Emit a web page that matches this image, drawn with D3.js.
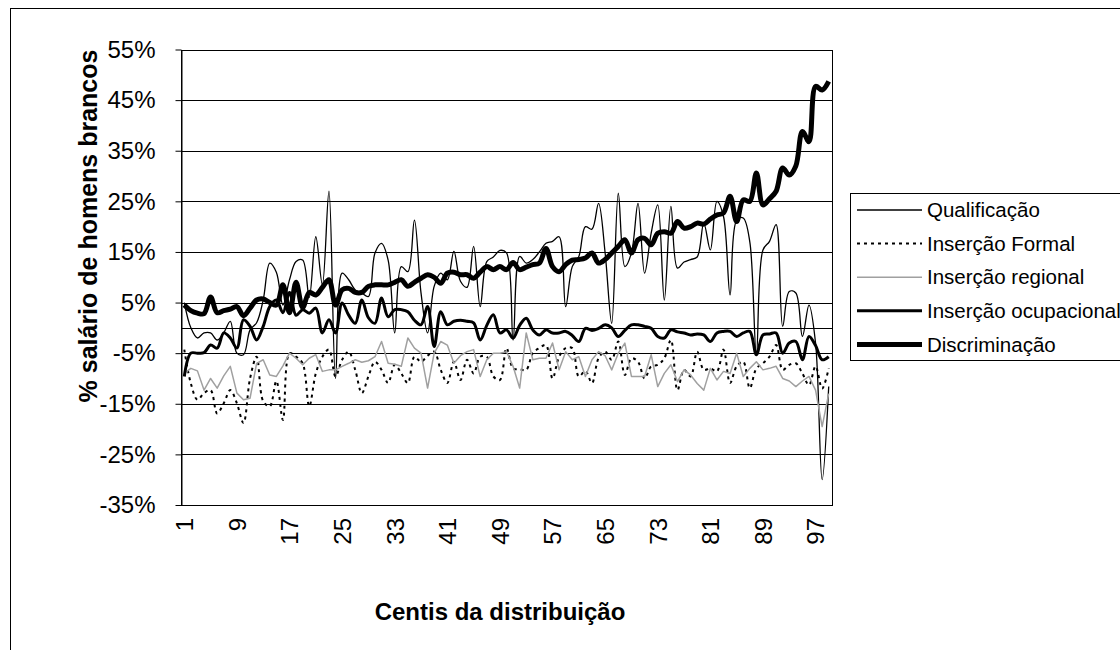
<!DOCTYPE html>
<html>
<head>
<meta charset="utf-8">
<script src="https://cdn.jsdelivr.net/npm/d3@7"></script>
<style>
  body { margin: 0; background: #fff; }
  svg { display: block; font-family: Arial, "Liberation Sans", sans-serif; }
</style>
</head>
<body>
<svg id="chart" width="1120" height="650"></svg>
<script>
var centis = [1,2,3,4,5,6,7,8,9,10,11,12,13,14,15,16,17,18,19,20,21,22,23,24,25,26,27,28,29,30,
  31,32,33,34,35,36,37,38,39,40,41,42,43,44,45,46,47,48,49,50,51,52,53,54,55,56,57,58,59,60,
  61,62,63,64,65,66,67,68,69,70,71,72,73,74,75,76,77,78,79,80,81,82,83,84,85,86,87,88,89,90,
  91,92,93,94,95,96,97,98,99];
var xTickLabels = [1, 9, 17, 25, 33, 41, 49, 57, 65, 73, 81, 89, 97];
var yTicks = [-35, -25, -15, -5, 5, 15, 25, 35, 45, 55];

// values in % of white men's wage
var qualificacao = [5.0, 0.0, -2.0, -1.0, -1.0, -2.4, -1.0, 1.3, -5.0, -5.3,
  -0.4, 1.0, 5.5, 12.8, 11.0, 4.5, 9.5, 13.1, 13.4, 6.0,
  18.0, 8.5, 27.0, -10.0, 10.8, 9.5, 7.5, 6.9, 6.2, 14.8,
  16.7, 13.4, -1.0, 12.1, 11.1, 21.3, 6.9, -1.0, 8.2, 10.8,
  9.5, 15.1, 9.2, 8.0, 16.1, 4.2, 13.1, 14.0, 15.3, 14.8,
  -2.4, 14.1, 12.8, 13.5, 15.0, 16.7, 17.1, 18.0, 4.2, 12.1,
  14.1, 20.0, 19.5, 24.6, 14.8, 0.9, 26.6, 12.1, 14.8, 24.6,
  10.8, 18.7, 24.3, 5.5, 24.0, 11.8, 13.0, 13.5, 14.0, 20.7,
  15.4, 25.0, 22.0, 6.5, 21.3, 21.7, 17.0, -5.3, 15.4, 17.1,
  20.4, 0.3, 7.2, 6.9, -1.7, 4.5, -3.0, -30.0, -11.6];
var insercaoFormal = [-4.3, -11.0, -14.2, -12.9, -12.3, -16.9, -14.9, -12.3, -14.9, -18.8,
  -10.0, -5.7, -14.5, -15.5, -10.5, -18.2, -5.0, -5.7, -7.0, -15.5,
  -9.0, -5.7, -4.3, -9.6, -6.3, -4.7, -8.3, -12.9, -9.6, -6.7,
  -8.3, -10.9, -7.3, -9.0, -10.9, -5.7, -6.7, -5.5, -4.7, -8.3,
  -10.9, -6.7, -10.3, -6.3, -9.0, -5.7, -5.7, -9.6, -10.3, -4.0,
  -8.0, -8.2, -8.3, -5.0, -4.0, -3.4, -10.0, -5.7, -4.0, -4.0,
  -9.6, -8.5, -10.9, -6.0, -4.7, -6.3, -2.7, -9.3, -6.0, -6.7,
  -10.0, -7.6, -7.3, -6.0, -2.4, -12.3, -8.3, -9.6, -4.7, -8.3,
  -8.0, -8.6, -4.3, -10.9, -7.6, -6.7, -11.9, -8.0, -7.0, -5.7,
  -3.4, -8.3, -7.3, -7.0, -9.0, -11.3, -7.6, -12.0, -8.0];
var insercaoRegional = [-9.0, -8.0, -8.5, -12.3, -10.0, -11.9, -9.5, -7.6, -12.9, -14.2,
  -13.9, -7.0, -6.3, -9.3, -9.6, -7.5, -5.0, -6.0, -7.3, -6.0,
  -5.3, -8.6, -8.3, -8.3, -7.6, -7.0, -6.3, -6.8, -6.5, -5.7,
  -2.7, -7.0, -7.2, -7.6, -2.0, -4.0, -5.0, -11.9, -5.0, -2.7,
  -3.4, -7.0, -5.5, -4.7, -4.3, -9.6, -6.3, -5.0, -5.0, -4.7,
  -7.6, -11.9, -1.0, -6.3, -6.0, -6.0, -3.0, -8.3, -4.7, -6.3,
  -5.7, -9.6, -6.3, -4.7, -5.5, -8.3, -5.0, -3.0, -9.6, -9.6,
  -9.6, -5.3, -11.6, -9.0, -7.3, -10.6, -8.3, -9.3, -11.0, -12.3,
  -8.0, -10.3, -8.6, -9.0, -5.0, -9.6, -8.0, -6.7, -8.3, -8.0,
  -7.6, -10.0, -10.5, -11.6, -10.5, -9.6, -12.3, -19.5, -13.0];
var insercaoOcupacional = [-9.6, -5.0, -5.0, -4.9, -3.4, -4.0, -1.0, -2.0, -4.0, 1.6,
  0.3, -2.4, 0.3, 4.2, 5.5, 3.0, 7.0, 2.5, 3.6, 2.9,
  3.9, -1.0, 1.6, -1.0, 4.9, 2.5, 0.9, 5.5, 2.0, 0.9,
  5.9, 2.2, 3.6, 3.6, 3.2, 1.5, 0.6, 4.2, -3.7, 3.2,
  0.6, 1.3, 1.5, 1.3, 1.0, -2.4, 0.5, 2.6, -1.0, -0.4,
  -2.0, 0.5, 1.9, -0.4, -1.4, -0.4, -1.0, -1.0, -0.7, -1.5,
  -2.7, -0.1, -0.5, -0.1, 0.6, 0.0, -1.7, -0.5, 0.6, 0.6,
  0.3, -0.1, -1.7, -2.0, -0.4, -0.8, -1.0, -1.4, -1.2, -1.4,
  -2.7, -1.0, -0.7, -0.7, -1.7, -1.0, -0.7, -5.3, -1.4, -1.2,
  -1.0, -5.0, -3.0, -2.7, -6.3, -1.7, -3.5, -6.3, -5.7];
var discriminacao = [4.5, 3.4, 2.9, 2.8, 6.1, 3.0, 3.4, 3.7, 4.2, 2.4,
  3.9, 5.5, 5.7, 5.0, 4.5, 8.5, 3.0, 9.0, 4.0, 7.0,
  6.5, 8.0, 9.5, 4.5, 7.5, 7.8, 7.0, 7.0, 8.2, 8.5,
  8.5, 8.5, 9.0, 9.5, 8.2, 9.0, 9.8, 10.5, 10.0, 8.8,
  10.8, 11.0, 10.5, 10.5, 9.8, 11.0, 12.1, 11.5, 12.1, 11.5,
  12.9, 11.5, 12.0, 12.5, 12.8, 15.7, 12.1, 11.1, 12.5, 13.4,
  13.5, 13.8, 14.8, 12.8, 13.5, 14.8, 16.1, 17.4, 14.8, 17.4,
  17.7, 16.4, 18.7, 19.0, 18.7, 21.0, 19.7, 20.0, 20.7, 20.5,
  21.5, 22.3, 22.7, 26.0, 21.0, 25.3, 25.0, 30.6, 24.3, 25.5,
  27.0, 31.6, 30.2, 32.0, 38.8, 36.8, 47.7, 47.0, 48.7];

var series = [
  {name: "Qualificação", values: qualificacao, color: "#000", width: 1.3, dash: null, curve: d3.curveCatmullRom},
  {name: "Inserção Formal", values: insercaoFormal, color: "#000", width: 2, dash: "3,4", curve: d3.curveCatmullRom},
  {name: "Inserção regional", values: insercaoRegional, color: "#a0a0a0", width: 1.5, dash: null, curve: d3.curveLinear},
  {name: "Inserção ocupacional", values: insercaoOcupacional, color: "#000", width: 3, dash: null, curve: d3.curveCatmullRom},
  {name: "Discriminação", values: discriminacao, color: "#000", width: 5, dash: null, curve: d3.curveCatmullRom}
];

var svg = d3.select("#chart"),
    plotLeft = 181, plotRight = 832, plotTop = 49.5, plotBottom = 505;

// chart area border (runs past the cropped edges)
svg.append("rect")
    .attr("x", 10.5).attr("y", 8.5)
    .attr("width", 1200).attr("height", 800)
    .attr("fill", "#fff").attr("stroke", "#000");

var x = d3.scalePoint().domain(centis).range([plotLeft, plotRight]).padding(0.5);
var y = d3.scaleLinear().domain([-35, 55]).range([plotBottom, plotTop]);

// gridlines
svg.append("g")
    .attr("class", "grid")
    .selectAll("line")
    .data(yTicks)
    .enter().append("line")
    .attr("x1", plotLeft).attr("x2", plotRight)
    .attr("y1", function(d) { return Math.round(y(d)) + 0.5; })
    .attr("y2", function(d) { return Math.round(y(d)) + 0.5; })
    .attr("stroke", "#000");

// category axis crosses at 0
svg.append("line")
    .attr("x1", plotLeft).attr("x2", plotRight)
    .attr("y1", Math.round(y(0)) + 0.5).attr("y2", Math.round(y(0)) + 0.5)
    .attr("stroke", "#000");

// plot area border
svg.append("rect")
    .attr("x", plotLeft + 0.5).attr("y", Math.round(plotTop) + 0.5)
    .attr("width", plotRight - plotLeft).attr("height", Math.round(plotBottom) - Math.round(plotTop))
    .attr("fill", "none").attr("stroke", "#000");

// y axis
var yAxis = svg.append("g")
    .attr("transform", "translate(" + (plotLeft + 0.5) + ",0)")
    .call(d3.axisLeft(y).tickValues(yTicks).tickSize(6).tickSizeOuter(0).tickPadding(20)
      .tickFormat(function(d) { return d + "%"; }));
yAxis.selectAll("text").attr("font-size", 24).attr("font-family", "Arial, 'Liberation Sans', sans-serif").attr("fill", "#000");
yAxis.select(".domain").attr("stroke", "#000");

// x labels at the bottom, rotated
var xAxis = svg.append("g")
    .attr("transform", "translate(0," + plotBottom + ")")
    .call(d3.axisBottom(x).tickValues(xTickLabels).tickSize(0));
xAxis.select(".domain").remove();
xAxis.selectAll("text")
    .attr("font-size", 24).attr("font-family", "Arial, 'Liberation Sans', sans-serif").attr("fill", "#000")
    .attr("y", 0).attr("x", -13).attr("dy", "0.35em")
    .attr("transform", "rotate(-90)")
    .style("text-anchor", "end");

// lines
var line = d3.line()
    .x(function(d, i) { return x(centis[i]); })
    .y(function(d) { return y(d); });

svg.append("g")
    .attr("class", "lines")
    .selectAll("path")
    .data(series)
    .enter().append("path")
    .attr("d", function(s) { return line.curve(s.curve)(s.values); })
    .attr("fill", "none")
    .attr("stroke", function(s) { return s.color; })
    .attr("stroke-width", function(s) { return s.width; })
    .attr("stroke-dasharray", function(s) { return s.dash; })
    .attr("stroke-linejoin", "round");

// axis titles
svg.append("text")
    .attr("transform", "translate(88,226) rotate(-90)")
    .attr("text-anchor", "middle").attr("dy", "0.35em")
    .attr("font-size", 25).attr("font-weight", "bold")
    .text("% salário de homens brancos");

svg.append("text")
    .attr("x", 500).attr("y", 612)
    .attr("text-anchor", "middle").attr("dy", "0.35em")
    .attr("font-size", 24).attr("font-weight", "bold")
    .text("Centis da distribuição");

// legend
var legend = svg.append("g").attr("class", "legend");
legend.append("rect")
    .attr("x", 850.5).attr("y", 193.5)
    .attr("width", 320).attr("height", 167)
    .attr("fill", "#fff").attr("stroke", "#000");

var item = legend.selectAll("g.item")
    .data(series)
    .enter().append("g")
    .attr("class", "item")
    .attr("transform", function(d, i) { return "translate(0," + (210 + i * 33.6) + ")"; });

item.append("line")
    .attr("x1", 857).attr("x2", 922)
    .attr("stroke", function(s) { return s.color; })
    .attr("stroke-width", function(s) { return s.width; })
    .attr("stroke-dasharray", function(s) { return s.dash; });

item.append("text")
    .attr("x", 927).attr("dy", "0.35em")
    .attr("font-size", 20.5)
    .text(function(s) { return s.name; });
</script>
</body>
</html>
